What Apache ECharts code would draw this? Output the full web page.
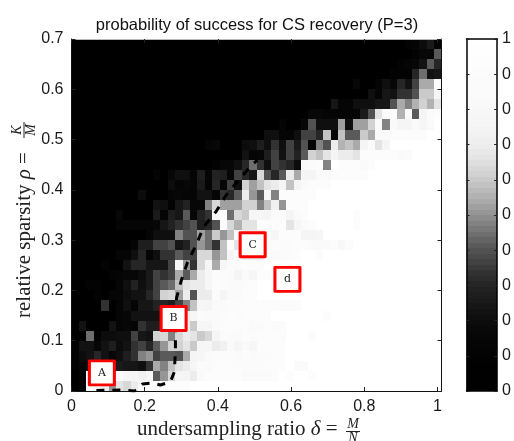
<!DOCTYPE html>
<html><head><meta charset="utf-8">
<style>html,body{margin:0;padding:0;background:#fff}#c{width:514px;height:441px}</style>
<script src="https://cdn.jsdelivr.net/npm/echarts@6/dist/echarts.min.js"></script>
</head><body><div id="c"></div>
<script>
const Z10=[0,0,0,0,0,0,0,0,0,0], W10=[100,100,100,100,100,100,100,100,100,100];
const rho69=[...Z10,...Z10,...Z10,...Z10,0,0,0,0,0,10,13,19,26,13];
const rho67=[...Z10,...Z10,...Z10,...Z10,0,0,0,0,0,0,10,16,16,42];
const rho65=[...Z10,...Z10,...Z10,...Z10,0,0,0,0,10,13,16,23,41,31];
const rho63=[...Z10,...Z10,...Z10,...Z10,0,0,0,10,10,10,31,45,23,24];
const rho61=[...Z10,...Z10,...Z10,0,0,0,0,0,0,0,0,16,0,0,13,21,16,31,23,37,54,54,84];
const rho59=[...Z10,...Z10,...Z10,...Z10,21,13,24,23,34,33,40,60,60,75];
const rho57=[...Z10,...Z10,...Z10,0,0,0,0,0,24,13,13,21,21,21,24,24,40,54,48,56,61,56,66];
const rho55=[...Z10,...Z10,...Z10,0,0,16,16,13,13,13,13,13,26,40,66,86,92,56,84,42,75,86,92];
const rho53=[...Z10,...Z10,0,0,0,0,0,0,0,0,13,0,0,16,40,21,21,21,52,21,52,52,61,84,47,84,75,75,84,78,84,100];
const rho51=[...Z10,...Z10,0,0,0,0,0,0,21,21,13,13,21,37,37,31,58,13,58,42,42,60,54,84,84,92,92,92,92,92,100,100];
const rho49=[...Z10,0,0,0,0,0,0,0,0,13,16,0,0,0,19,21,27,21,34,21,37,26,40,13,48,40,70,56,58,54,75,84,66,75,100,100,100,100,100,100,100];
const rho47=[...Z10,...Z10,0,0,0,23,13,16,27,36,23,37,29,42,61,58,66,75,70,70,66,92,92,92,92,92,84,86,100,100,100,100];
const rho45=[...Z10,0,0,0,0,0,0,0,0,0,10,16,16,21,31,45,33,21,36,34,31,19,84,86,92,47,100,92,92,92,84,92,100,100,100,100,100,100,100,100,100];
const rho43=[...Z10,0,13,0,16,21,21,13,27,13,29,27,16,36,31,24,64,40,31,42,70,54,75,75,84,84,92,92,92,92,92,...W10];
const rho41=[...Z10,0,0,0,19,13,16,13,26,13,31,16,36,21,61,52,58,66,70,75,58,75,84,92,92,92,100,100,100,100,100,...W10];
const rho39=[0,0,0,0,0,0,0,0,0,19,0,0,0,13,16,13,13,23,23,13,33,31,42,70,51,42,75,47,92,92,92,92,92,100,100,100,100,100,100,100,...W10];
const rho37=[...Z10,0,23,21,10,24,29,16,16,48,64,52,52,52,61,61,47,58,72,51,92,92,92,100,100,100,100,100,100,100,100,...W10];
const rho35=[0,0,0,0,0,0,16,0,0,0,0,26,13,27,24,42,16,29,34,75,100,44,64,60,78,78,75,84,84,75,84,92,100,100,100,100,100,100,92,100,...W10];
const rho33=[0,0,0,0,0,0,13,13,13,13,13,16,24,29,33,37,40,27,31,40,92,64,56,66,66,92,92,92,92,66,78,84,92,100,100,100,100,100,92,100,...W10];
const rho31=[...Z10,13,21,21,21,47,40,40,52,45,60,51,58,84,70,70,70,92,78,92,92,92,75,75,78,100,100,100,100,100,100,...W10];
const rho29=[0,0,0,0,0,0,0,0,13,27,27,37,37,40,24,29,40,51,45,34,58,92,66,70,70,70,92,92,86,86,92,92,84,84,84,92,80,92,100,100,...W10];
const rho27=[0,0,0,0,0,0,13,13,21,31,13,21,33,33,42,37,37,64,64,51,58,75,84,70,70,70,92,84,84,86,92,100,100,92,100,100,100,100,100,100,...W10];
const rho25=[0,0,0,0,10,0,0,23,31,31,24,24,24,37,75,51,34,64,75,54,78,86,86,92,92,92,100,100,100,100,...W10,...W10];
const rho23=[0,0,0,0,0,10,13,16,16,19,26,37,33,37,54,42,54,70,78,86,86,84,75,84,78,92,92,100,100,100,...W10,...W10];
const rho21=[0,0,10,10,0,0,13,21,29,21,26,37,42,45,58,66,70,70,78,92,86,84,84,86,92,100,100,100,100,100,...W10,...W10];
const rho19=[0,0,0,10,0,13,13,19,23,23,31,37,61,64,52,70,40,70,70,86,75,84,84,92,92,100,100,100,100,100,...W10,...W10];
const rho17=[0,0,0,0,33,0,13,21,13,24,24,29,31,27,37,47,58,78,75,84,84,86,92,92,92,92,92,92,86,86,86,100,100,100,100,100,100,100,100,100,...W10];
const rho15=[0,0,0,0,0,0,13,16,23,23,23,23,70,70,70,70,78,86,84,84,86,92,86,92,92,92,92,100,100,100,100,100,100,100,92,100,100,100,100,100,...W10];
const rho13=[0,23,0,0,0,23,13,16,13,33,27,27,70,70,70,70,60,78,78,84,92,92,92,92,84,84,92,86,86,100,...W10,...W10];
const rho11=[0,0,44,10,19,19,21,21,37,24,23,61,64,48,64,70,66,60,64,75,86,84,84,92,86,92,92,92,86,100,100,100,86,100,100,100,100,100,100,100,...W10];
const rho09=[10,23,23,16,23,27,19,23,33,37,31,42,51,61,61,66,60,78,78,70,72,84,78,84,78,92,92,92,92,100,...W10,...W10];
const rho07=[10,19,23,31,23,16,21,27,33,48,51,37,42,42,40,54,75,78,84,86,86,86,84,92,84,86,86,92,92,100,...W10,...W10];
const rho05=[10,16,21,21,21,21,26,24,24,21,34,54,48,58,66,70,78,86,84,92,92,92,92,86,86,86,92,92,92,100,84,84,100,100,100,100,100,100,100,100,...W10];
const rho03=[0,10,100,100,100,100,84,78,75,72,78,42,51,64,75,75,70,84,92,92,92,92,92,84,84,84,84,92,100,92,100,100,92,100,100,100,100,100,100,100,...W10];
const rho01=[0,10,92,75,70,51,66,64,70,84,92,92,92,92,92,92,100,100,100,100,...W10,...W10,...W10];
const rowsTopDown=[rho69,rho67,rho65,rho63,rho61,rho59,rho57,rho55,rho53,rho51,rho49,rho47,rho45,rho43,rho41,rho39,rho37,rho35,rho33,rho31,rho29,rho27,rho25,rho23,rho21,rho19,rho17,rho15,rho13,rho11,rho09,rho07,rho05,rho03,rho01];

const grayLevels=[0,1,1,1,1,2,3,4,5,6,7,9,12,15,18,22,26,30,34,38,44,50,58,66,74,82,90,100,110,120,130,140,150,160,170,178,186,194,202,210,216,222,228,232,236,239,241,243,245,246,247,248,249,250,250,251,251,252,252,253,253,254,254,255];

const curveDelta=[0.068,0.139,0.172,0.178,0.194,0.22,0.243,0.27,0.281,0.284,0.284,0.287,0.30,0.317,0.339,0.361,0.396,0.423,0.454,0.492,0.508];
const curveRho=[0.001,0.002,0.0,0.002,0.014,0.016,0.012,0.018,0.038,0.08,0.11,0.185,0.22,0.256,0.288,0.326,0.358,0.39,0.417,0.449,0.459];

const boxLabels=['A','B','C','d'];
const boxDelta=[0.083,0.279,0.495,0.59];
const boxRho=[0.036,0.144,0.291,0.222];

const xTicks=[0,0.2,0.4,0.6,0.8,1];
const xMax=1.011, yMax=0.7, nCols=50, rowStep=0.02;
const cellW=xMax/nCols;

function grayOf(p){const k=Math.min(63,Math.floor(p/100*64));const g=grayLevels[k];return 'rgb('+g+','+g+','+g+')';}
const cells=[];
rowsTopDown.forEach((row,r)=>row.forEach((p,c)=>cells.push([(c+0.5)*cellW,yMax-(r+0.5)*rowStep,p])));
const barCells=grayLevels.map((g,i)=>[i,g]);

const sans='"Liberation Sans",Arial,sans-serif', serif='"Liberation Serif",serif';
const tickFont={fontFamily:sans,fontSize:16,color:'#1a1a1a'};
const lineBlack={show:true,onZero:false,lineStyle:{color:'#111',width:1}};
const tickIn={show:true,inside:true,length:4,lineStyle:{color:'#222',width:1}};

const chart=echarts.init(document.getElementById('c'),null,{renderer:'canvas'});
chart.setOption({
 animation:false,
 backgroundColor:'#fff',
 title:{text:'probability of success for CS recovery (P=3)',left:'center',top:12,textStyle:{fontFamily:sans,fontSize:16.5,fontWeight:'normal',color:'#111'}},
 grid:[{left:71.5,top:39,width:370,height:352},{left:466.5,top:39,width:34,height:352}],
 xAxis:[
  {gridIndex:0,type:'value',min:0,max:xMax,position:'bottom',z:5,axisLine:lineBlack,splitLine:{show:false},
   axisTick:{...tickIn,customValues:xTicks},axisLabel:{...tickFont,margin:8,customValues:xTicks}},
  {gridIndex:0,type:'value',min:0,max:xMax,position:'top',z:5,axisLine:{show:true,onZero:false,lineStyle:{color:'#bbb'}},splitLine:{show:false},
   axisTick:{...tickIn,customValues:xTicks},axisLabel:{show:false}},
  {gridIndex:1,type:'value',min:0,max:1,position:'bottom',z:5,axisLine:{show:true,onZero:false,lineStyle:{color:'#000',width:1.5}},splitLine:{show:false},axisTick:{show:false},axisLabel:{show:false}},
  {gridIndex:1,type:'value',min:0,max:1,position:'top',z:5,axisLine:{show:true,onZero:false,lineStyle:{color:'#000',width:1.5}},splitLine:{show:false},axisTick:{show:false},axisLabel:{show:false}}
 ],
 yAxis:[
  {gridIndex:0,type:'value',min:0,max:yMax,interval:0.1,position:'left',z:5,axisLine:lineBlack,splitLine:{show:false},
   axisTick:tickIn,axisLabel:{...tickFont,margin:8}},
  {gridIndex:0,type:'value',min:0,max:yMax,interval:0.1,position:'right',z:5,axisLine:lineBlack,splitLine:{show:false},
   axisTick:tickIn,axisLabel:{show:false}},
  {gridIndex:1,type:'value',min:0,max:1,interval:0.1,position:'left',z:5,axisLine:{show:true,onZero:false,lineStyle:{color:'#000',width:1.5}},splitLine:{show:false},
   axisTick:{...tickIn,length:3},axisLabel:{show:false}},
  {gridIndex:1,type:'value',min:0,max:1,interval:0.1,position:'right',z:5,axisLine:{show:true,onZero:false,lineStyle:{color:'#000',width:1.5}},splitLine:{show:false},
   axisTick:{...tickIn,length:3},axisLabel:{...tickFont,margin:5,formatter:v=>v>0.99?'1':'0'}}
 ],
 series:[
  {type:'custom',xAxisIndex:0,yAxisIndex:0,data:cells,encode:{x:0,y:1},clip:false,z:2,silent:true,
   renderItem(params,api){
    const x=api.value(0),y=api.value(1);
    const a=api.coord([x-cellW/2,y+rowStep/2]),b=api.coord([x+cellW/2,y-rowStep/2]);
    const x0=Math.round(a[0]),y0=Math.round(a[1]),x1=Math.round(b[0]),y1=Math.round(b[1]);
    return {type:'rect',shape:{x:x0,y:y0,width:x1-x0,height:y1-y0},style:{fill:grayOf(api.value(2))}};
   }},
  {type:'line',xAxisIndex:0,yAxisIndex:0,data:curveDelta.map((d,i)=>[d,curveRho[i]]),showSymbol:false,clip:true,z:6,silent:true,
   lineStyle:{color:'#000',width:3,type:[8,8]}},
  {type:'scatter',xAxisIndex:0,yAxisIndex:0,data:boxDelta.map((d,i)=>({value:[d,boxRho[i]],name:boxLabels[i]})),z:7,silent:true,
   symbol:'rect',symbolSize:[25,24],itemStyle:{color:'#fff',borderColor:'#f00',borderWidth:3,opacity:1,borderJoin:'round'},
   label:{show:true,position:'inside',formatter:'{b}',fontFamily:'"DejaVu Serif",serif',fontSize:11,color:'#222'}},
  {type:'custom',xAxisIndex:2,yAxisIndex:2,data:barCells,encode:{y:0},clip:false,z:2,silent:true,
   renderItem(params,api){
    const i=api.value(0);
    const a=api.coord([0,(i+1)/grayLevels.length]),b=api.coord([1,i/grayLevels.length]);
    const y0=Math.round(a[1]),y1=Math.round(b[1]);
    const g=api.value(1);
    return {type:'rect',shape:{x:a[0],y:y0,width:b[0]-a[0],height:y1-y0},style:{fill:'rgb('+g+','+g+','+g+')'}};
   }}
 ],
 graphic:[
  {type:'text',x:137,y:429,style:{text:'undersampling ratio {i|δ} =',font:'21px '+serif,fill:'#222',textVerticalAlign:'middle',rich:{i:{fontStyle:'italic',fontFamily:'"Liberation Serif",serif',fontSize:21,fill:'#222'}}}},
  {type:'text',x:353,y:424,style:{text:'M',font:'italic 14px '+serif,fill:'#222',textAlign:'center',textVerticalAlign:'middle'}},
  {type:'line',shape:{x1:346,y1:431.5,x2:360,y2:431.5},style:{stroke:'#222',lineWidth:1}},
  {type:'text',x:353,y:438,style:{text:'N',font:'italic 14px '+serif,fill:'#222',textAlign:'center',textVerticalAlign:'middle'}},
  {type:'group',x:24,y:318,rotation:Math.PI/2,children:[
   {type:'text',x:0,y:0,style:{text:'relative sparsity {i|ρ} =',font:'21px '+serif,fill:'#222',textVerticalAlign:'middle',rich:{i:{fontStyle:'italic',fontFamily:'"Liberation Serif",serif',fontSize:21,fill:'#222'}}}},
   {type:'text',x:188,y:-7,style:{text:'K',font:'italic 14px '+serif,fill:'#222',textAlign:'center',textVerticalAlign:'middle'}},
   {type:'line',shape:{x1:180,y1:0,x2:196,y2:0},style:{stroke:'#222',lineWidth:1}},
   {type:'text',x:188,y:7,style:{text:'M',font:'italic 14px '+serif,fill:'#222',textAlign:'center',textVerticalAlign:'middle'}}
  ]}
 ]
});
</script></body></html>
